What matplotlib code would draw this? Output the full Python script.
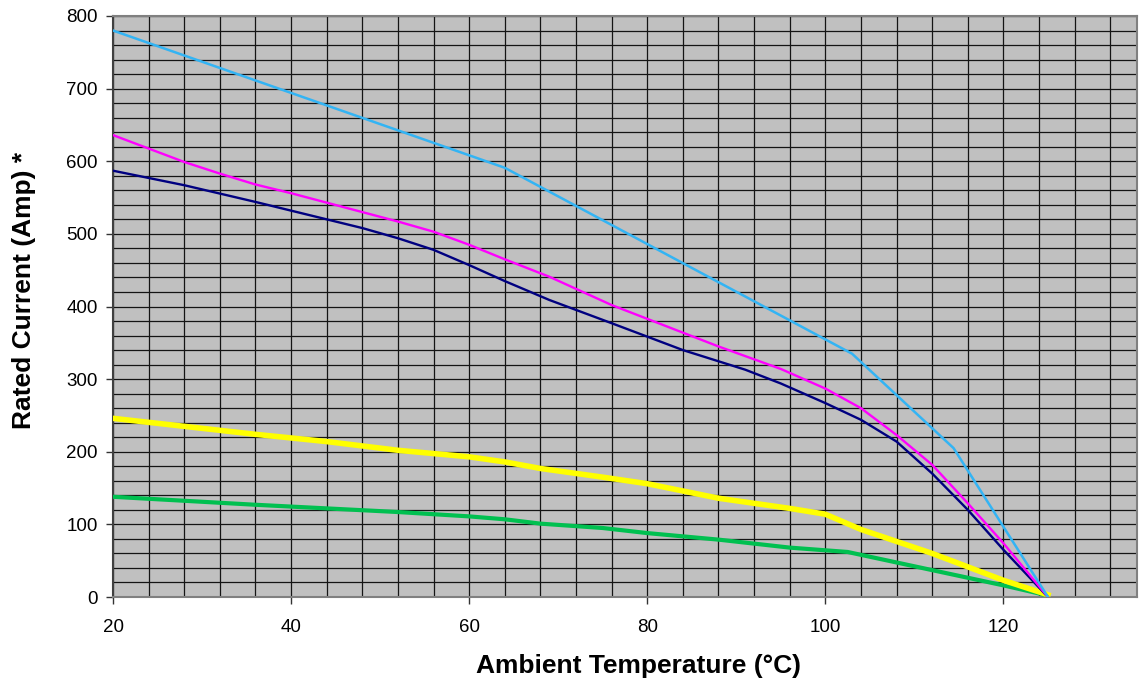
import matplotlib
matplotlib.use("Agg")
import matplotlib.pyplot as plt
import numpy as np

# Data
blue_t = [20, 64, 103, 114.4, 125]
blue_a = [780, 591, 335, 205, 0]

magenta_t = [20, 28, 32, 36, 40, 44, 48, 52, 56, 60, 64, 69, 76, 88, 95, 100, 104, 108, 112, 116, 120, 125]
magenta_a = [636, 599, 583, 568, 556, 543, 530, 517, 503, 485, 465, 441, 402, 345, 314, 287, 260, 223, 182, 129, 74, 0]

navy_t = [20, 28, 36, 44, 48, 52, 56, 60, 64, 69, 76, 84, 91, 95, 100, 104, 108, 112, 116, 120, 125]
navy_a = [587, 567, 544, 520, 508, 494, 478, 457, 435, 409, 377, 340, 313, 294, 267, 244, 214, 170, 120, 65, 0]

yellow_t = [20, 28, 36, 44, 52, 60, 64, 68, 75, 80, 88, 96, 100, 104, 112, 120, 125]
yellow_a = [246, 235, 224, 214, 202, 193, 186, 177, 165, 156, 136, 122, 114, 93, 60, 23, 3]

green_t = [20, 36, 52, 60, 64, 68, 75, 80, 88, 96, 102.5, 112, 120, 125]
green_a = [138, 127, 117, 111, 107, 101, 95, 88, 79, 68, 62, 37, 16, 2]

x_ticks = [20, 40, 60, 80, 100, 120]
y_ticks = [0, 100, 200, 300, 400, 500, 600, 700, 800]

plt.rcParams['font.family'] = ['Liberation Sans', 'DejaVu Sans']

W, H = 1139, 683
fig = plt.figure(figsize=(W / 100, H / 100), dpi=100)
ax = fig.add_axes([113 / W, 1 - 597 / H, (1137 - 113) / W, (597 - 16) / H])
ax.set_facecolor('#c0c0c0')

ax.set_xlim(20, 135)
ax.set_ylim(0, 800)

# grid
for gx in np.arange(20, 135.01, 4):
    ax.axvline(gx, color='#141414', lw=0.9, zorder=1)
for gy in np.arange(0, 800.01, 20):
    ax.axhline(gy, color='#141414', lw=0.9, zorder=1)

ax.plot(green_t, green_a, color='#00c050', lw=3.0, zorder=3)
ax.plot(yellow_t, yellow_a, color='#ffff00', lw=4.0, zorder=4)
ax.plot(navy_t, navy_a, color='#000080', lw=1.7, zorder=5)
ax.plot(magenta_t, magenta_a, color='#ff00ff', lw=1.7, zorder=6)
ax.plot(blue_t, blue_a, color='#33b4f4', lw=1.8, zorder=7)

ax.set_xticks(x_ticks)
ax.set_yticks(y_ticks)
ax.tick_params(axis='both', direction='out', length=5, width=1, color='#333333',
               labelsize=13.5)
ax.tick_params(axis='x', pad=11)
ax.tick_params(axis='y', pad=6)

for s in ['top', 'right']:
    ax.spines[s].set_color('#808080')
    ax.spines[s].set_linewidth(1.5)
ax.spines['left'].set_color('#404040')
ax.spines['left'].set_linewidth(1.5)
ax.spines['bottom'].set_color('#808080')
ax.spines['bottom'].set_linewidth(1.5)

fig.text(638 / W, 1 - 666 / H, 'Ambient Temperature (°C)', fontsize=19,
         fontweight='bold', ha='center', va='center')
fig.text(24 / W, 1 - 290 / H, 'Rated Current (Amp) *', fontsize=19,
         fontweight='bold', ha='center', va='center', rotation=90)

fig.savefig('out.png', dpi=100)
